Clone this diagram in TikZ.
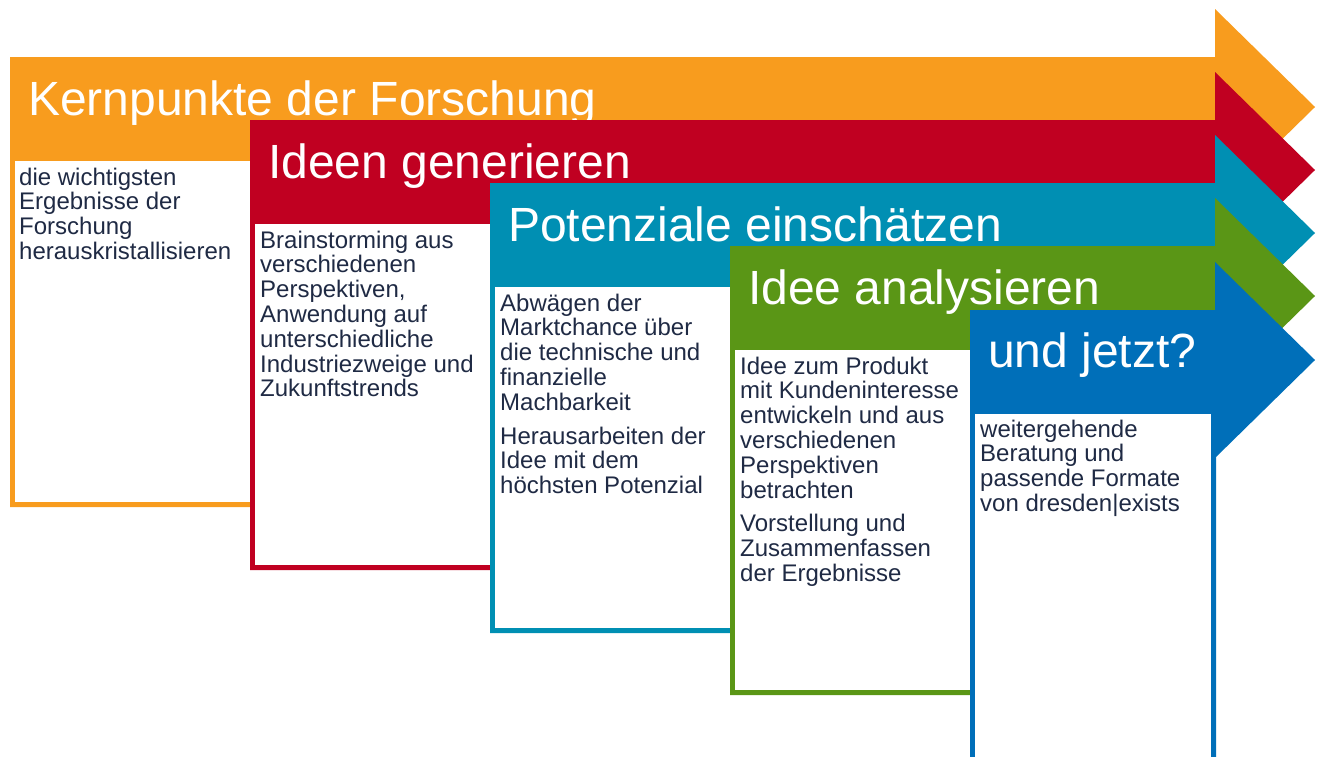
\documentclass[tikz,border=0pt]{standalone}
\usepackage{fontspec}
\setmainfont{Liberation Sans}
\definecolor{cOrange}{HTML}{F89C1E}
\definecolor{cRed}{HTML}{C00021}
\definecolor{cTeal}{HTML}{008FB3}
\definecolor{cGreen}{HTML}{5A9616}
\definecolor{cBlue}{HTML}{006FB9}
\definecolor{cText}{HTML}{1F2A44}
\tikzset{
  ttl/.style={anchor=base west, inner sep=0pt, text=white, font=\fontsize{48}{52}\selectfont},
  bodytxt/.style={anchor=base west, inner sep=0pt, text=cText, font=\fontsize{24}{24.7}\selectfont},
}
\newcommand{\stepshape}[4]{% left, top, bottom, colour
  \fill[#4] (#1,#2) -- (1215,#2) -- (1215,#2-48) -- (1315,#2+50) -- (1215,#2+148)
     -- (1215,#2+100) -- (#1+246,#2+100) -- (#1+246,#3) -- (#1,#3) -- cycle;
  \fill[white] (#1+5,#2+104) rectangle (#1+241,#3-5);
}
\newcommand{\lines}[1]{\begin{tabular}[t]{@{}l@{}}#1\end{tabular}}
\begin{document}
\begin{tikzpicture}[x=1pt,y=-1pt]
\useasboundingbox (0,0) rectangle (1324,756);
\clip (0,0) rectangle (1324,756);
% step 1
\stepshape{10}{57}{507}{cOrange}
\node[ttl] (t1) at (28,115) {Kernpunkte der Forschung};
\node[bodytxt] (b1) at (19,185) {\lines{die wichtigsten\\Ergebnisse der\\Forschung\\herauskristallisieren}};
% step 2
\stepshape{250}{120}{570}{cRed}
\node[ttl] (t2) at (268,178) {Ideen generieren};
\node[bodytxt] (b2) at (260,248) {\lines{Brainstorming aus\\verschiedenen\\Perspektiven,\\Anwendung auf\\unterschiedliche\\Industriezweige und\\Zukunftstrends}};
% step 3
\stepshape{490}{183}{633}{cTeal}
\node[ttl] (t3) at (508,241) {Potenziale einschätzen};
\node[bodytxt] (b3) at (500,311) {\lines{Abwägen der\\Marktchance über\\die technische und\\finanzielle\\Machbarkeit\\[9pt]Herausarbeiten der\\Idee mit dem\\höchsten Potenzial}};
% step 4
\stepshape{730}{246}{695}{cGreen}
\node[ttl] (t4) at (748,304) {Idee analysieren};
\node[bodytxt] (b4) at (740,374) {\lines{Idee zum Produkt\\mit Kundeninteresse\\entwickeln und aus\\verschiedenen\\Perspektiven\\betrachten\\[9pt]Vorstellung und\\Zusammenfassen\\der Ergebnisse}};
% step 5
\stepshape{970}{310}{762}{cBlue}
\node[ttl] (t5) at (988,367) {und jetzt?};
\node[bodytxt] (b5) at (980,437) {\lines{weitergehende\\Beratung und\\passende Formate\\von dresden|exists}};
\end{tikzpicture}
\end{document}
